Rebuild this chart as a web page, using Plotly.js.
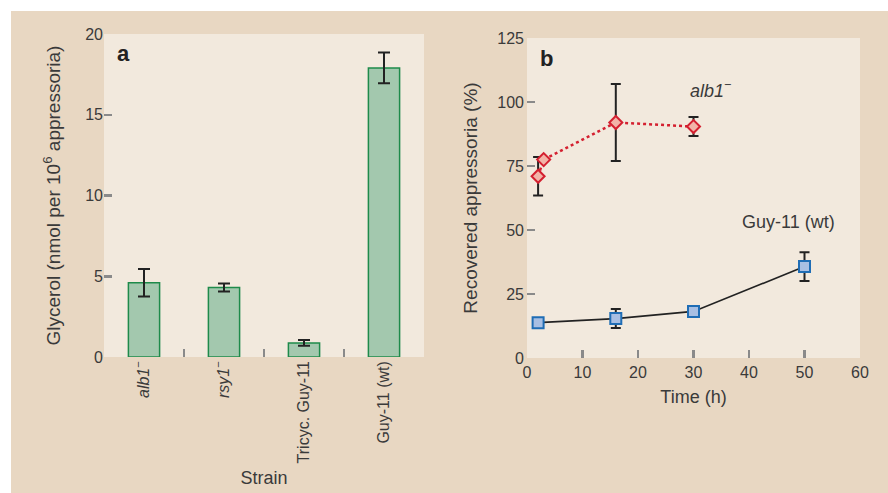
<!DOCTYPE html>
<html>
<head>
<meta charset="utf-8">
<script src="https://cdn.plot.ly/plotly-3.0.1.min.js"></script>
<style>html,body{margin:0;padding:0;background:#fff;}#chart{width:888px;height:493px;}</style>
</head>
<body>
<div id="chart"></div>
<script>
// ---- Panel a data ----
var strains = ["<i>alb1</i><sup>−</sup>", "<i>rsy1</i><sup>−</sup>", "Tricyc. Guy-11", "Guy-11 (wt)"];
var glycerol = [4.6, 4.3, 0.87, 17.9];
var glycerolErr = [0.85, 0.25, 0.18, 0.95];
var glycerolTicks = [0, 5, 10, 15, 20];

// ---- Panel b data ----
var albTime = [2, 3, 16, 30];
var albRecovered = [71, 77.5, 92, 90.4];
var albErr = [7.5, 0, 15, 3.7];
var wtTime = [2, 16, 30, 50];
var wtRecovered = [13.8, 15.4, 18.2, 35.7];
var wtErr = [0, 3.7, 0, 5.6];
var recTicks = [0, 25, 50, 75, 100, 125];
var timeTicks = [0, 10, 20, 30, 40, 50, 60];

var W = 888, H = 493;
function px(x){return x/W;}
function py(y){return 1 - y/H;}

var FONT = "Liberation Sans, Arial, sans-serif";
var TXT = "#3a3a3a";
var TICKC = "#8a8a8a";

var xIdx = strains.map(function(s,i){return i;});

var traces = [
  {
    type: "bar", x: xIdx, y: glycerol, xaxis: "x", yaxis: "y",
    width: 0.39,
    marker: {color: "#a3c8ae", line: {color: "#1e8a4a", width: 1.5}},
    error_y: {type: "data", array: glycerolErr, visible: true, color: "#222222", thickness: 2, width: 6},
    hoverinfo: "y", showlegend: false
  },
  {
    type: "scatter", mode: "lines+markers", x: albTime, y: albRecovered, xaxis: "x2", yaxis: "y2",
    line: {color: "#d42030", width: 2.5, dash: "dot"},
    marker: {symbol: "diamond", size: 10, color: "#f2b4a8", line: {color: "#d42030", width: 2}},
    error_y: {type: "data", array: albErr, visible: true, color: "#222222", thickness: 2, width: 5},
    showlegend: false
  },
  {
    type: "scatter", mode: "lines+markers", x: wtTime, y: wtRecovered, xaxis: "x2", yaxis: "y2",
    line: {color: "#222222", width: 1.6},
    marker: {symbol: "square", size: 11, color: "#a8bfe3", line: {color: "#1f6db5", width: 2}},
    error_y: {type: "data", array: wtErr, visible: true, color: "#222222", thickness: 2, width: 5},
    showlegend: false
  }
];

var tickFont = {family: FONT, size: 16, color: TXT};
var titleFont = {family: FONT, size: 18, color: TXT};
var yTitleFont = {family: FONT, size: 19, color: TXT};

var layout = {
  width: W, height: H,
  margin: {l: 0, r: 0, t: 0, b: 0},
  paper_bgcolor: "#e8d7c2",
  plot_bgcolor: "#f2e9dd",
  font: {family: FONT, color: TXT},
  xaxis: {
    domain: [px(104), px(424)], anchor: "y",
    range: [-0.5, 3.5], tickvals: xIdx, ticktext: strains, tickangle: -90,
    ticks: "", showgrid: false, zeroline: false, showline: false,
    tickfont: tickFont, fixedrange: true,
    minor: {tickvals: [0.5, 1.5, 2.5], ticks: "inside", ticklen: 8, tickwidth: 2.5, tickcolor: TICKC, showgrid: false},
    title: {text: "Strain", font: titleFont, standoff: 8}
  },
  yaxis: {
    domain: [py(357), py(34)], anchor: "x",
    range: [0, 20], tickvals: glycerolTicks,
    ticks: "", showgrid: false, zeroline: false, showline: false,
    tickfont: tickFont, fixedrange: true,
    minor: {tickvals: [5, 10, 15], ticks: "inside", ticklen: 8, tickwidth: 2.5, tickcolor: TICKC, showgrid: false},
    title: {text: "Glycerol (nmol per 10<sup>6</sup> appressoria)", font: yTitleFont, standoff: 19}
  },
  xaxis2: {
    domain: [px(527), px(860)], anchor: "y2",
    range: [0, 60], tickvals: timeTicks,
    ticks: "", showgrid: false, zeroline: false, showline: false,
    tickfont: tickFont, fixedrange: true, ticklabelstandoff: 3,
    minor: {tickvals: [10, 20, 30, 40, 50], ticks: "inside", ticklen: 8, tickwidth: 2.5, tickcolor: TICKC, showgrid: false},
    title: {text: "Time (h)", font: titleFont, standoff: 10}
  },
  yaxis2: {
    domain: [py(358), py(38)], anchor: "x2",
    range: [0, 125], tickvals: recTicks,
    ticks: "", showgrid: false, zeroline: false, showline: false,
    tickfont: tickFont, fixedrange: true, ticklabelstandoff: 2,
    minor: {tickvals: [25, 50, 75, 100], ticks: "inside", ticklen: 8, tickwidth: 2.5, tickcolor: TICKC, showgrid: false},
    title: {text: "Recovered appressoria (%)", font: yTitleFont, standoff: 14}
  },
  shapes: [
    {type: "rect", xref: "paper", yref: "paper", x0: 0, x1: 1, y0: py(11), y1: 1,
     fillcolor: "#ffffff", line: {width: 0}, layer: "below"},
    {type: "rect", xref: "paper", yref: "paper", x0: 0, x1: px(11), y0: 0, y1: 1,
     fillcolor: "#ffffff", line: {width: 0}, layer: "below"}
  ],
  annotations: [
    {xref: "paper", yref: "paper", x: px(115), y: py(53), xanchor: "left", yanchor: "middle",
     text: "<b>a</b>", showarrow: false, font: {family: FONT, size: 22, color: "#222222"}},
    {xref: "paper", yref: "paper", x: px(538), y: py(58), xanchor: "left", yanchor: "middle",
     text: "<b>b</b>", showarrow: false, font: {family: FONT, size: 22, color: "#222222"}},
    {xref: "x2", yref: "y2", x: 33, y: 104.7, xanchor: "center", yanchor: "middle",
     text: "<i>alb1</i><sup>−</sup>", showarrow: false, font: {family: FONT, size: 18, color: TXT}},
    {xref: "x2", yref: "y2", x: 47.1, y: 53.1, xanchor: "center", yanchor: "middle",
     text: "Guy-11 (wt)", showarrow: false, font: {family: FONT, size: 18, color: TXT}}
  ]
};

Plotly.newPlot("chart", traces, layout, {displayModeBar: false, staticPlot: true});
</script>
</body>
</html>
